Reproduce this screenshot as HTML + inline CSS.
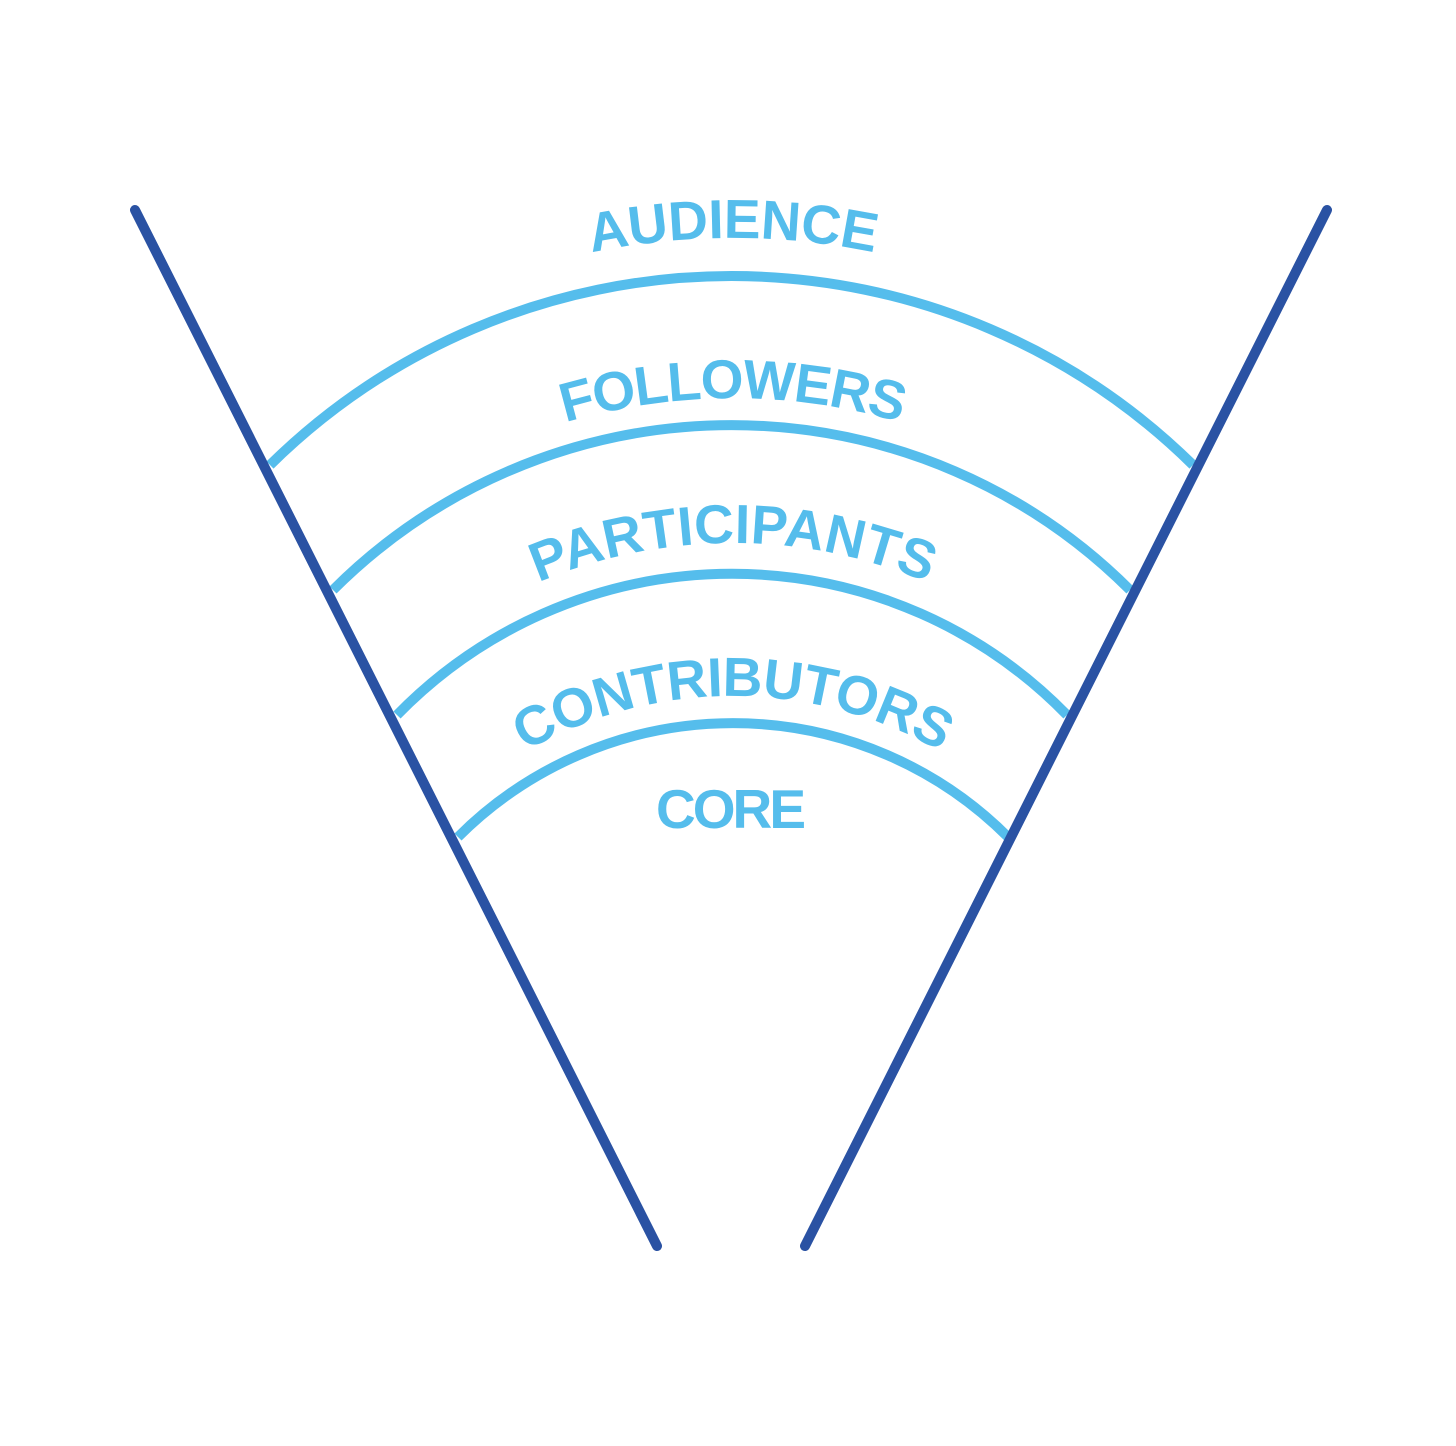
<!DOCTYPE html>
<html><head><meta charset="utf-8"><style>html,body{margin:0;padding:0;background:#fff}</style></head>
<body>
<svg width="1456" height="1441" viewBox="0 0 1456 1441" xmlns="http://www.w3.org/2000/svg">
<defs>
<path id="p1" d="M37,934 A696,696 0 0 1 1429,934"/>
<path id="p2" d="M142,989 A591,591 0 0 1 1324,989"/>
<path id="p3" d="M234,1042 A499,499 0 0 1 1232,1042"/>
<path id="p4" d="M317,1112 A416,416 0 0 1 1149,1112"/>
</defs>
<g fill="none" stroke="#55bdec" stroke-width="10">
<path d="M270,465 A658,658 0 0 1 1193,465"/>
<path d="M333,590 A564,564 0 0 1 1130,590"/>
<path d="M397,715 A468,468 0 0 1 1067,715"/>
<path d="M458,837 A389,389 0 0 1 1008,837"/>
</g>
<g stroke="#2a52a3" stroke-width="10" stroke-linecap="round">
<line x1="135" y1="210" x2="657" y2="1246"/>
<line x1="1327" y1="210" x2="805" y2="1246"/>
</g>
<g fill="#55bdec" font-family="Liberation Sans, sans-serif" font-weight="bold" font-size="55">
<text text-anchor="middle"><textPath href="#p1" startOffset="50%" textLength="285">AUDIENCE</textPath></text>
<text text-anchor="middle"><textPath href="#p2" startOffset="50%" textLength="340">FOLLOWERS</textPath></text>
<text text-anchor="middle"><textPath href="#p3" startOffset="50%" textLength="400">PARTICIPANTS</textPath></text>
<text text-anchor="middle"><textPath href="#p4" startOffset="50%" textLength="435">CONTRIBUTORS</textPath></text>
<text x="731" y="828" text-anchor="middle" textLength="150">CORE</text>
</g>
</svg>
</body></html>
